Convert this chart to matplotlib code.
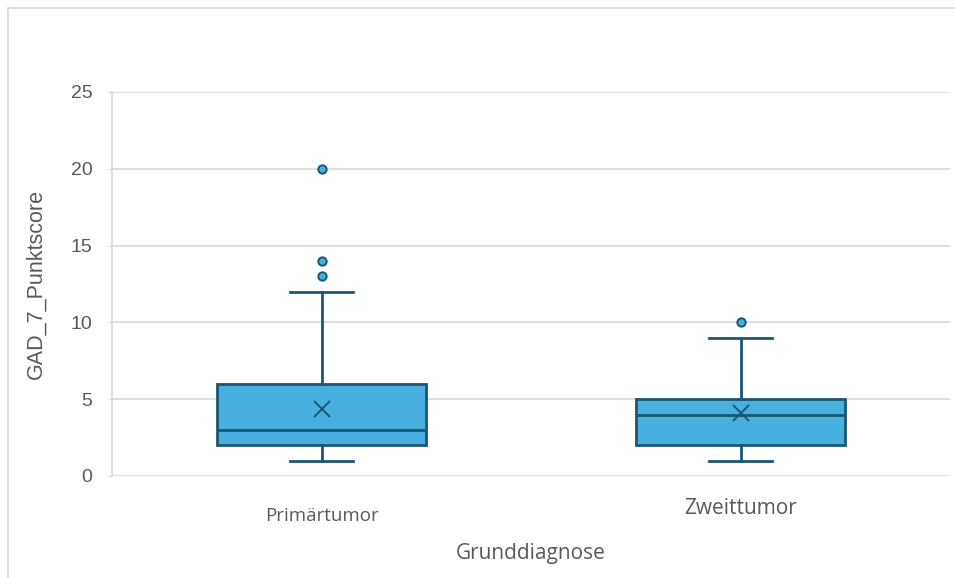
import matplotlib.pyplot as plt
from matplotlib.lines import Line2D

# box plot summary values
categories = ['Primärtumor', 'Zweittumor']
q1 = [2, 2]
medians = [3, 4]
q3 = [6, 5]
whislo = [1, 1]
whishi = [12, 9]
means = [4.35, 4.1]
outliers = [[13, 14, 20], [10]]
yticks = [0, 5, 10, 15, 20, 25]

fill = '#47B0DF'
edge = '#1B5673'
grid = '#D9D9D9'
txt = '#595959'


def main():
    fig = plt.figure(figsize=(9.55, 5.78), dpi=100)
    ax = fig.add_axes([112 / 955, 102 / 578, 838 / 955, 384 / 578])

    # outer chart frame (top and left edges visible)
    fig.add_artist(Line2D([8 / 955, 1.0], [1 - 8 / 578, 1 - 8 / 578], color=grid, lw=1.2))
    fig.add_artist(Line2D([8 / 955, 8 / 955], [0, 1 - 8 / 578], color=grid, lw=1.2))

    stats = []
    for i, name in enumerate(categories):
        stats.append(dict(label=name, q1=q1[i], med=medians[i], q3=q3[i],
                          whislo=whislo[i], whishi=whishi[i], mean=means[i],
                          fliers=outliers[i]))

    positions = [0.5, 1.5]
    ax.bxp(stats, positions=positions, widths=0.5, patch_artist=True,
           showmeans=True, capwidths=0.15,
           boxprops=dict(facecolor=fill, edgecolor=edge, linewidth=2),
           medianprops=dict(color=edge, linewidth=2),
           whiskerprops=dict(color=edge, linewidth=2),
           capprops=dict(color=edge, linewidth=2),
           meanprops=dict(marker='x', markeredgecolor=edge, markersize=11,
                          markeredgewidth=1.4),
           flierprops=dict(marker='o', markerfacecolor=fill, markeredgecolor=edge,
                           markersize=6, markeredgewidth=1.4),
           zorder=3)

    ax.set_xlim(0, 2)
    ax.set_ylim(0, 25)
    ax.set_yticks(yticks)
    ax.yaxis.grid(True, color=grid, linewidth=1.2, zorder=0)
    ax.set_axisbelow(True)
    for s in ['top', 'right', 'bottom']:
        ax.spines[s].set_visible(False)
    ax.spines['left'].set_color(grid)
    ax.spines['left'].set_linewidth(1.2)
    ax.tick_params(axis='y', colors=grid, length=3, labelcolor=txt, labelsize=14, pad=11)
    ax.tick_params(axis='x', length=0)
    ax.set_xticks([])
    for lab in ax.get_yticklabels():
        lab.set_fontfamily('Liberation Sans')

    # category labels (different sizes as in the reference)
    ax.text(positions[0], -2.6, categories[0], ha='center', va='center',
            fontsize=13.5, color=txt, family='Open Sans')
    ax.text(positions[1], -2.1, categories[1], ha='center', va='center',
            fontsize=15, color=txt, family='Open Sans')

    ax.set_ylabel('GAD_7_Punktscore', fontsize=15.5, color=txt,
                  family='Liberation Sans')
    ax.yaxis.set_label_coords(-(112 - 47) / 838, 0.5)
    fig.text(531 / 955, 1 - 554 / 578, 'Grunddiagnose', ha='center', va='center',
             fontsize=15, color=txt, family='Open Sans')

    fig.savefig('out.png', dpi=100, facecolor='white')


main()
